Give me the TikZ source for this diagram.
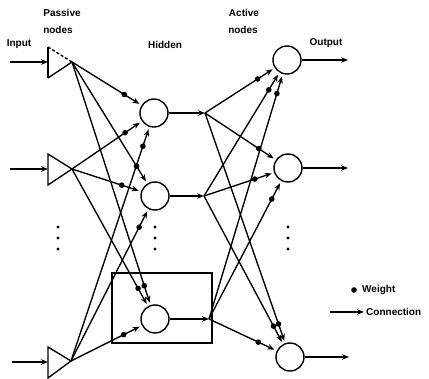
\documentclass[tikz,border=0pt]{standalone}
\usepackage{fontspec}
\setmainfont{Liberation Sans}
\usetikzlibrary{arrows.meta,calc}
\begin{document}
\begin{tikzpicture}[x=1pt,y=-1pt,
  wire/.style={line width=1.35pt},
  arr/.style={wire,-{Stealth[length=7pt,width=5.5pt]}},
  conn/.style={arr,shorten >=2.5pt},
  neuron/.style={circle,draw,line width=1.4pt,minimum size=28pt,inner sep=0pt},
  lbl/.style={font=\fontsize{10}{12}\selectfont\bfseries,inner sep=0pt},
  framebox/.style={line width=1.4pt}]
\useasboundingbox (0,0) rectangle (429,379);

% weighted link: arrow into a neuron with a weight dot ahead of the tip
\newcommand\wlink[2]{%
  \draw[conn] (#1) -- (#2);
  \fill ($(#2.center)!35pt!(#1)$) circle (2.8pt);}

% passive (input) nodes
\coordinate (p1) at (72,62);
\coordinate (p2) at (72,169);
\coordinate (p3) at (71,361);
\draw[wire] (48,78) -- (48,47);
\draw[wire,dash pattern=on 3pt off 2pt] (48,47) -- (p1);
\draw[wire] (p1) -- (48,78);
\draw[wire] (48,154) -- (p2) -- (48,185) -- cycle;
\draw[wire] (48,347) -- (p3) -- (48,378) -- cycle;

% input arrows
\coordinate (in1) at (10,62);   \coordinate (t1) at (48,62);
\coordinate (in2) at (10,169);  \coordinate (t2) at (48,169);
\coordinate (in3) at (12,362);  \coordinate (t3) at (48,362);
\draw[arr] (in1) -- (t1);
\draw[arr] (in2) -- (t2);
\draw[arr] (in3) -- (t3);

% hidden layer
\node[neuron] (h1) at (154,113) {};
\node[neuron] (h2) at (155,196) {};
\node[neuron] (h3) at (155,319) {};
\draw[framebox] (112,273) rectangle (212,343);

\coordinate (j1) at (205,113);
\coordinate (j2) at (204,196);
\coordinate (j3) at (209,319);
\draw[arr] (h1) -- (j1);
\draw[arr] (h2) -- (j2);
\draw[arr] (h3) -- (j3);

% passive -> hidden
\foreach \p in {p1,p2,p3}
  \foreach \h in {h1,h2,h3}
    {\wlink{\p}{\h}}

% active (output) layer
\node[neuron] (o1) at (287,60) {};
\node[neuron] (o2) at (288,168) {};
\node[neuron] (o3) at (290,357) {};

\foreach \j in {j1,j2,j3}
  \foreach \o in {o1,o2,o3}
    {\wlink{\j}{\o}}

% outputs
\coordinate (y1) at (348,60);
\coordinate (y2) at (348,168);
\coordinate (y3) at (349,357);
\draw[arr] (o1) -- (y1);
\draw[arr] (o2) -- (y2);
\draw[arr] (o3) -- (y3);

% vertical ellipses
\foreach \x in {58,155,288}
  \foreach \y in {227,238,249}
    \fill (\x,\y) circle (1.6pt);

% labels
\node[lbl] (lpas) at (62,13) {Passive};
\node[lbl] (lpn) at (58,30) {nodes};
\node[lbl] (lin) at (19,44) {Input};
\node[lbl] (lhid) at (165,45) {Hidden};
\node[lbl] (lact) at (244,13) {Active};
\node[lbl] (lan) at (243,30) {nodes};
\node[lbl] (lout) at (326,43) {Output};

% legend
\fill (354,290) circle (2.8pt);
\node[lbl,anchor=west] (lw) at (362,290) {Weight};
\coordinate (ka) at (330,312);
\coordinate (kb) at (364,312);
\draw[arr] (ka) -- (kb);
\node[lbl,anchor=west] (lc) at (366,312) {Connection};
\end{tikzpicture}
\end{document}
